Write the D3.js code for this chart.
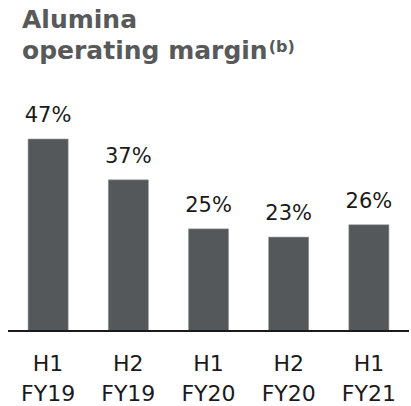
<!DOCTYPE html>
<html>
<head>
<meta charset="utf-8">
<script src="https://cdn.jsdelivr.net/npm/d3@7"></script>
<style>
  body { margin: 0; background: #fff; }
  svg { display: block; }
</style>
</head>
<body>
<div id="chart"></div>
<script>
// data
const periods = ["H1", "H2", "H1", "H2", "H1"]
const years = ["FY19", "FY19", "FY20", "FY20", "FY21"]
const margins = [47, 37, 25, 23, 26]

const width = 411
const height = 406
const baseline = 331

const svg = d3.select("#chart").append("svg")
    .attr("width", width)
    .attr("height", height)

const font = "'DejaVu Sans', sans-serif"

// title
const title = svg.append("text")
    .attr("x", 22)
    .attr("y", 28)
    .attr("fill", "#58595b")
    .attr("font-family", font)
    .attr("font-weight", 700)
    .attr("font-size", 25)
title.append("tspan").text("Alumina")
title.append("tspan").attr("x", 22).attr("dy", 31).text("operating margin")
title.append("tspan").attr("font-size", 16).attr("dy", -7).attr("dx", 1).text("(b)")

const x = d3.scaleBand()
    .domain(d3.range(margins.length))
    .range([8, 409])
    .paddingInner(0.5)
    .paddingOuter(0.25)

const y = d3.scaleLinear()
    .domain([0, 47])
    .range([baseline, 139])

svg.selectAll("rect.bar")
    .data(margins)
    .join("rect")
    .attr("class", "bar")
    .attr("x", (d, i) => x(i))
    .attr("y", (d) => y(d))
    .attr("width", x.bandwidth())
    .attr("height", (d) => baseline - y(d))
    .attr("fill", "#55585b")
    .attr("stroke", "#9a9c9e")
    .attr("stroke-width", 0.6)

svg.selectAll("text.val")
    .data(margins)
    .join("text")
    .attr("class", "val")
    .attr("x", (d, i) => x(i) + x.bandwidth() / 2)
    .attr("y", (d) => y(d) - 17)
    .attr("text-anchor", "middle")
    .attr("font-family", font)
    .attr("font-size", 21)
    .attr("fill", "#1a1a1a")
    .text((d) => d + "%")

// axis line
svg.append("line")
    .attr("x1", 8)
    .attr("x2", 409)
    .attr("y1", baseline)
    .attr("y2", baseline)
    .attr("stroke", "#1a1a1a")
    .attr("stroke-width", 2)

const cat = svg.selectAll("text.cat")
    .data(periods)
    .join("text")
    .attr("class", "cat")
    .attr("text-anchor", "middle")
    .attr("font-family", font)
    .attr("font-size", 22)
    .attr("fill", "#1a1a1a")
cat.append("tspan")
    .attr("x", (d, i) => x(i) + x.bandwidth() / 2)
    .attr("y", 371)
    .text((d) => d)
cat.append("tspan")
    .attr("x", (d, i) => x(i) + x.bandwidth() / 2)
    .attr("y", 401)
    .text((d, i) => years[i])
</script>
</body>
</html>
